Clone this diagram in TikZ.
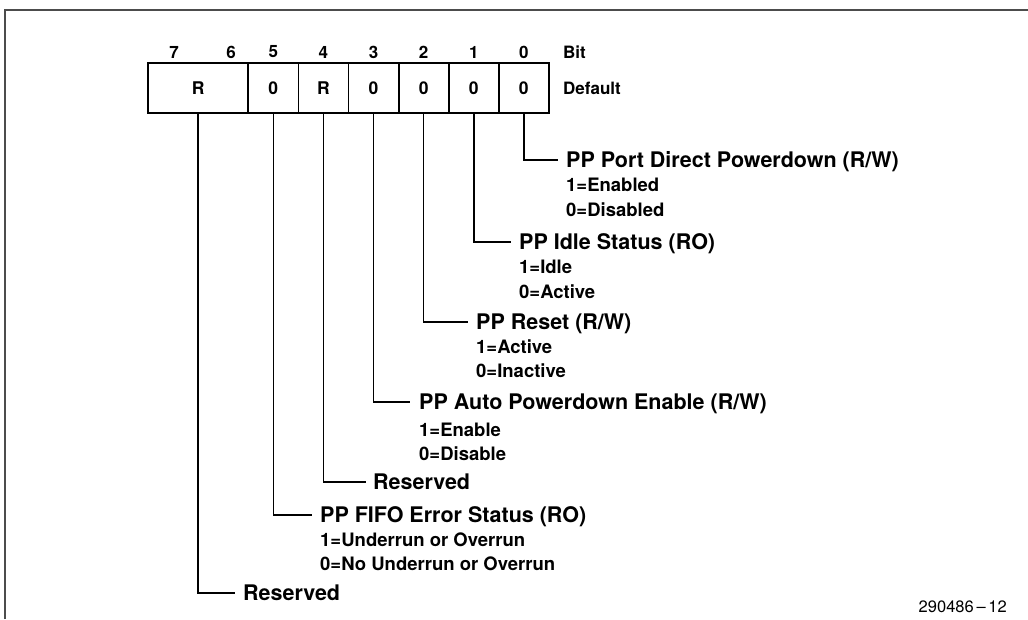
\documentclass[tikz,border=0pt]{standalone}
\usepackage{fontspec}
\setmainfont{TeX Gyre Heros}
\begin{document}
\begin{tikzpicture}[x=1pt,y=-1pt,
  cell/.style={draw, line width=1.8pt, minimum height=50pt, inner sep=0pt,
    font=\bfseries\fontsize{17.5}{20}\selectfont},
  bitlbl/.style={inner sep=0pt, font=\bfseries\fontsize{17}{20}\selectfont},
  ttl/.style={anchor=west, inner xsep=0pt, inner ysep=0pt, text height=15.5pt, text depth=0pt,
    font=\bfseries\fontsize{21.5}{24}\selectfont},
  sub/.style={anchor=west, inner xsep=0pt, inner ysep=0pt, text height=13pt, text depth=0pt,
    font=\bfseries\fontsize{18.5}{22}\selectfont},
  conn/.style={line width=1.6pt},
  frame/.style={draw=black!70, line width=2pt}]
\useasboundingbox (0,0) rectangle (1028,619);
% frame
\coordinate (fbl) at (5,619);
\coordinate (ftl) at (5,10);
\coordinate (ftr) at (1028,10);
\draw[frame] (fbl) -- (ftl) -- (ftr);
% register cells
\node[cell, minimum width=100.2pt] (c76) at (198.1,88) {R};
\node[cell, minimum width=50.1pt] (c5) at (273.35,88) {0};
\node[cell, minimum width=50.1pt] (c4) at (323.45,88) {R};
\node[cell, minimum width=50.1pt] (c3) at (373.55,88) {0};
\node[cell, minimum width=50.1pt] (c2) at (423.65,88) {0};
\node[cell, minimum width=50.1pt] (c1) at (473.75,88) {0};
\node[cell, minimum width=50.1pt] (c0) at (523.85,88) {0};
% bit numbers
\node[bitlbl] (b7) at (174,52) {7};
\node[bitlbl] (b6) at (231,52) {6};
\node[bitlbl] (b5) at (273.35,52) {5};
\node[bitlbl] (b4) at (323.45,52) {4};
\node[bitlbl] (b3) at (373.55,52) {3};
\node[bitlbl] (b2) at (423.65,52) {2};
\node[bitlbl] (b1) at (473.75,52) {1};
\node[bitlbl] (b0) at (523.85,52) {0};
\node[bitlbl, anchor=west] (bitw) at (563,52) {Bit};
\node[bitlbl, anchor=west] (defw) at (563,88) {Default};
% bit 0
\node[ttl] (t0) at (566,160) {PP Port Direct Powerdown (R/W)};
\node[sub] (s0a) at (566,185) {1=Enabled};
\node[sub] (s0b) at (566,210) {0=Disabled};
% bit 1
\node[ttl] (t1) at (519,242) {PP Idle Status (RO)};
\node[sub] (s1a) at (519,267) {1=Idle};
\node[sub] (s1b) at (519,292) {0=Active};
% bit 2
\node[ttl] (t2) at (476,322) {PP Reset (R/W)};
\node[sub] (s2a) at (476,347) {1=Active};
\node[sub] (s2b) at (476,371) {0=Inactive};
% bit 3
\node[ttl] (t3) at (419,402) {PP Auto Powerdown Enable (R/W)};
\node[sub] (s3a) at (419,430) {1=Enable};
\node[sub] (s3b) at (419,454) {0=Disable};
% bit 4
\node[ttl] (t4) at (373,482) {Reserved};
% bit 5
\node[ttl] (t5) at (320,515) {PP FIFO Error Status (RO)};
\node[sub] (s5a) at (320,540) {1=Underrun or Overrun};
\node[sub] (s5b) at (320,564) {0=No Underrun or Overrun};
% bits 7-6
\node[ttl] (t76) at (243,593) {Reserved};
% connectors
\draw[conn] (c0.south) |- ([xshift=-8pt]t0.west);
\draw[conn] (c1.south) |- ([xshift=-8pt]t1.west);
\draw[conn] (c2.south) |- ([xshift=-8pt]t2.west);
\draw[conn] (c3.south) |- ([xshift=-9pt]t3.west);
\draw[conn] (c4.south) |- ([xshift=-7pt]t4.west);
\draw[conn] (c5.south) |- ([xshift=-8pt]t5.west);
\draw[conn] (c76.south) |- ([xshift=-8pt]t76.west);
% figure number
\node[anchor=east, inner sep=0pt, font=\fontsize{16.5}{20}\selectfont] (fig) at (1007,607) {290486{\,}–{\,}12};
\end{tikzpicture}
\end{document}
